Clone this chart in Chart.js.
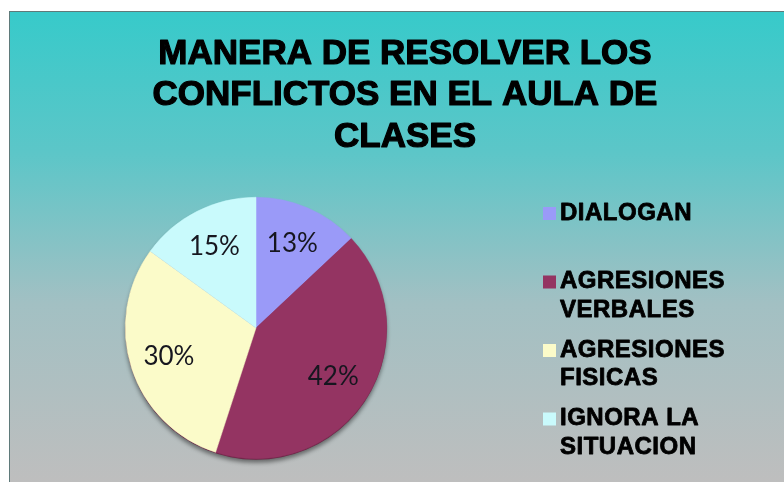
<!DOCTYPE html>
<html>
<head>
<meta charset="utf-8">
<script src="https://cdn.jsdelivr.net/npm/chart.js@4/dist/chart.umd.min.js"></script>
<style>
  html, body { margin:0; padding:0; background:#fff; }
  #c { display:block; }
</style>
</head>
<body>
<canvas id="c" width="784" height="482"></canvas>
<script>
// Manera de resolver los conflictos — pie
const TITLE_LINES = ['MANERA DE RESOLVER LOS', 'CONFLICTOS EN EL AULA DE', 'CLASES'];
const CATEGORIES = [['DIALOGAN'], ['AGRESIONES', 'VERBALES'], ['AGRESIONES', 'FISICAS'], ['IGNORA LA', 'SITUACION']];
const PERCENTS = [13, 42, 30, 15];
const COLORS = ['#9a9af8', '#943462', '#fbfbc9', '#c9fafc'];

// slide-like backdrop: teal to grey, thin dark edge top/left
const backdrop = {
  id:'backdrop',
  beforeDraw(chart){
    const {ctx, width, height} = chart;
    ctx.save();
    ctx.fillStyle = '#fff';
    ctx.fillRect(0, 0, width, height);
    const g = ctx.createLinearGradient(0, 11, 0, height);
    g.addColorStop(0, '#37caca');
    g.addColorStop(0.3, '#5cc6c8');
    g.addColorStop(0.62, '#a2c0c3');
    g.addColorStop(1, '#bebebe');
    ctx.fillStyle = g;
    ctx.fillRect(9, 11, width - 9, height - 11);
    ctx.fillStyle = '#5f7a7a';
    ctx.fillRect(9, 11, width - 9, 1);
    ctx.fillRect(9, 11, 1, height - 11);
    ctx.restore();
  }
};

const titleBlock = {
  id:'titleBlock',
  afterDraw(chart){
    const {ctx} = chart;
    ctx.save();
    ctx.font = 'bold 35px "Liberation Sans", Arial, sans-serif';
    ctx.fillStyle = '#000';
    ctx.strokeStyle = '#000';
    ctx.lineWidth = 1.2;
    ctx.lineJoin = 'round';
    ctx.textAlign = 'center';
    ctx.textBaseline = 'middle';
    TITLE_LINES.forEach((t, i) => {
      ctx.fillText(t, 405, 54 + i*41.5);
      ctx.strokeText(t, 405, 54 + i*41.5);
    });
    ctx.restore();
  }
};

// subtle shadow under the pie (3d-ish edge in the original)
const pieShadow = {
  id:'pieShadow',
  beforeDatasetsDraw(chart){
    const arc = chart.getDatasetMeta(0).data[0];
    if(!arc) return;
    const {x, y, outerRadius} = arc.getProps(['x','y','outerRadius'], true);
    const {ctx} = chart;
    ctx.save();
    ctx.shadowColor = 'rgba(0,0,0,0.45)';
    ctx.shadowBlur = 4;
    ctx.shadowOffsetY = 3;
    ctx.fillStyle = '#6a2445';
    ctx.beginPath();
    ctx.arc(x, y + 1, outerRadius, 0, Math.PI*2);
    ctx.fill();
    ctx.restore();
  }
};

const sliceLabels = {
  id:'sliceLabels',
  afterDatasetsDraw(chart){
    const {ctx} = chart;
    const ds = chart.data.datasets[0];
    ctx.save();
    ctx.font = '26px Lato, "Open Sans", sans-serif';
    ctx.fillStyle = '#16161f';
    ctx.textAlign = 'center';
    ctx.textBaseline = 'middle';
    chart.getDatasetMeta(0).data.forEach((arc, i) => {
      const p = arc.getProps(['x','y','startAngle','endAngle','outerRadius'], true);
      const a = (p.startAngle + p.endAngle) / 2;
      const r = p.outerRadius * 0.7;
      ctx.fillText(ds.data[i] + '%', p.x + Math.cos(a)*r, p.y + Math.sin(a)*r);
    });
    ctx.restore();
  }
};

const sideLegend = {
  id:'sideLegend',
  afterDraw(chart){
    const {ctx} = chart;
    const ds = chart.data.datasets[0];
    ctx.save();
    ctx.font = 'bold 24px "Liberation Sans", Arial, sans-serif';
    ctx.letterSpacing = '0.5px';
    ctx.textBaseline = 'middle';
    ctx.textAlign = 'left';
    ctx.strokeStyle = '#000';
    ctx.lineWidth = 0.8;
    ctx.lineJoin = 'round';
    chart.data.labels.forEach((lines, i) => {
      const y0 = 213 + i*68.5;
      ctx.fillStyle = ds.backgroundColor[i];
      ctx.fillRect(543, y0 - 6, 13, 13);
      ctx.fillStyle = '#000';
      lines.forEach((t, j) => {
        ctx.fillText(t, 560, y0 + j*28.5);
        ctx.strokeText(t, 560, y0 + j*28.5);
      });
    });
    ctx.restore();
  }
};

new Chart(document.getElementById('c').getContext('2d'), {
  type:'pie',
  data:{ labels: CATEGORIES, datasets:[{
    data: PERCENTS,
    backgroundColor: COLORS,
    borderColor: COLORS,
    borderWidth: 0.5,
  }]},
  options:{
    responsive:false, animation:false,
    layout:{ padding:{ left:125, right:397, top:197, bottom:23 } },
    plugins:{ legend:{display:false}, title:{display:false}, tooltip:{enabled:false} }
  },
  plugins:[backdrop, pieShadow, sliceLabels, titleBlock, sideLegend]
});
</script>
</body>
</html>
